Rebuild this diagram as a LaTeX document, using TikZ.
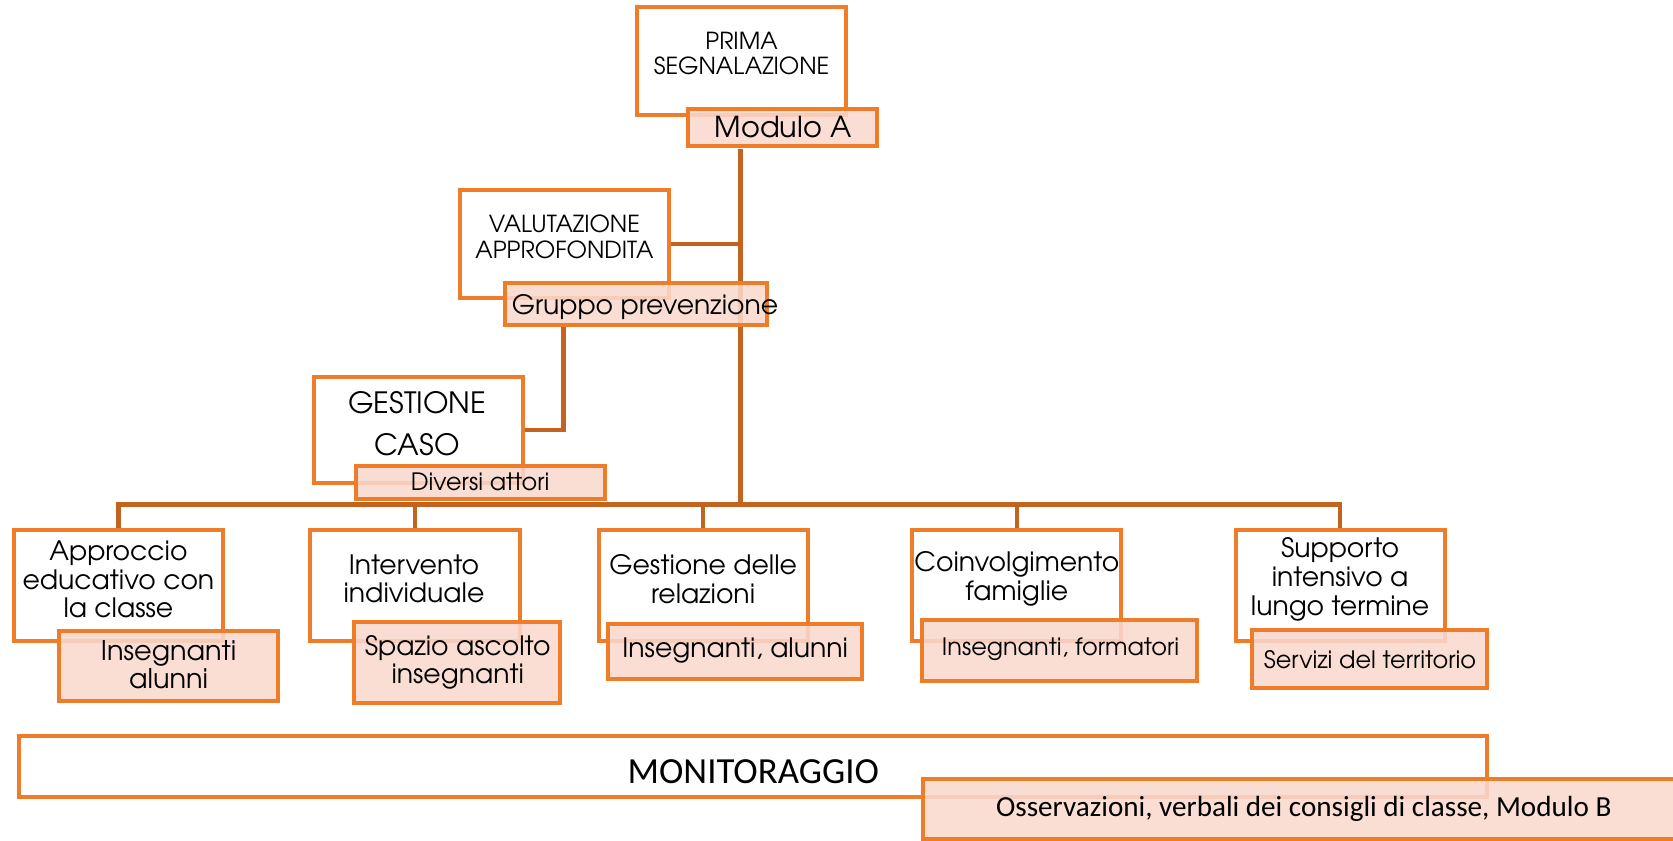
\documentclass[tikz,border=0pt]{standalone}
\usepackage{fontspec}
\setmainfont{TeX Gyre Adventor}
\newfontfamily\calib{Carlito}
\usetikzlibrary{calc}
\definecolor{borange}{RGB}{238,124,40}
\definecolor{corange}{RGB}{196,98,32}
\definecolor{pinkf}{RGB}{249,217,206}
\begin{document}
\begin{tikzpicture}[x=1pt,y=-1pt,
 wbox/.style={draw=borange,line width=3.75pt,fill=white,inner sep=0pt,minimum width=196pt,minimum height=101pt},
 bbox/.style={wbox,minimum height=104pt},
 pbox/.style={draw=borange,line width=3.75pt,fill=pinkf,fill opacity=0.88,inner sep=0pt},
 conn/.style={draw=corange,line width=4.2pt},
 txt/.style={align=center,inner sep=0pt,text=black,font=\fontsize{22}{24}\selectfont},
 btxt/.style={txt,font=\fontsize{25}{27}\selectfont},
 ctxt/.style={txt,font=\calib\fontsize{24}{28}\selectfont},
]
\clip (0,0) rectangle (1568,788);
% coordinates for connector junctions
\coordinate (t1) at (694,473);
% white boxes
\node[wbox] (prima) at (695,57.5) {};
\node[wbox] (valut) at (529,228.5) {};
\node[wbox,minimum height=100pt] (gest) at (392,403) {};
\node[bbox] (b1) at (111,549) {};
\node[bbox] (b2) at (389,549) {};
\node[bbox] (b3) at (659,549) {};
\node[bbox] (b4) at (953,549) {};
\node[bbox] (b5) at (1256,549) {};
\node[wbox,minimum width=1376pt,minimum height=57pt] (mon) at (706,718.5) {};
% connectors
\draw[conn] (prima.south -| t1) ++(0,30) -- (t1);
\draw[conn] (valut.east) -- (valut.east -| t1);
\draw[conn] ($(valut.south)+(-1,26)$) |- (gest.east);
\draw[conn] (b1.north) |- (t1) -| (b5.north);
\draw[conn] (b2.north) -- (b2.north |- t1);
\draw[conn] (b3.north) -- (b3.north |- t1);
\draw[conn] (b4.north) -- (b4.north |- t1);
% pink boxes
\node[pbox,minimum width=177pt,minimum height=35pt] (modA) at (733.5,119.5) {};
\node[pbox,minimum width=246pt,minimum height=40pt] (gruppo) at (596,285) {};
\node[pbox,minimum width=233pt,minimum height=31pt] (diversi) at (450.5,452.5) {};
\node[pbox,minimum width=206pt,minimum height=66pt] (p1) at (158,624) {};
\node[pbox,minimum width=193pt,minimum height=76pt] (p2) at (428.5,621) {};
\node[pbox,minimum width=238pt,minimum height=51pt] (p3) at (689,610.5) {};
\node[pbox,minimum width=258pt,minimum height=57pt] (p4) at (993,609.5) {};
\node[pbox,minimum width=221pt,minimum height=55pt] (p5) at (1283.5,617.5) {};
\node[pbox,minimum width=735pt,minimum height=56pt] (oss) at (1232.5,758) {};
% texts
\node[txt] (tprima) at (695,50) {PRIMA\\SEGNALAZIONE};
\node[txt,font=\fontsize{27}{30}\selectfont] (tmodA) at (734,119) {Modulo A};
\node[txt] (tvalut) at (529,222) {VALUTAZIONE\\APPROFONDITA};
\node[txt,font=\fontsize{25}{28}\selectfont] (tgruppo) at (604.5,288) {Gruppo prevenzione};
\node[txt,font=\fontsize{27.5}{40}\selectfont] (tgest) at (391,397) {GESTIONE\\CASO};
\node[txt,font=\fontsize{22.4}{25}\selectfont] (tdiv) at (450,452) {Diversi attori};
\node[btxt] (tb1) at (111,543) {Approccio\\educativo con\\la classe};
\node[btxt] (tb2) at (388,542.5) {Intervento\\individuale};
\node[btxt] (tb3) at (659,542.5) {Gestione delle\\relazioni};
\node[btxt] (tb4) at (953,542.5) {Coinvolgimento\\famiglie};
\node[btxt] (tb5) at (1256,543) {Supporto\\intensivo a\\lungo termine};
\node[btxt,font=\fontsize{25.4}{26}\selectfont] (tp1) at (158,623) {Insegnanti\\alunni};
\node[btxt,font=\fontsize{25}{26}\selectfont] (tp2) at (429,621) {Spazio ascolto\\insegnanti};
\node[btxt] (tp3) at (689,610) {Insegnanti, alunni};
\node[txt,font=\fontsize{22.5}{25}\selectfont] (tp4) at (994,608) {Insegnanti, formatori};
\node[txt,font=\fontsize{22.5}{25}\selectfont] (tp5) at (1284,618) {Servizi del territorio};
\node[ctxt,font=\calib\fontsize{34.5}{40}\selectfont] (tmon) at (706,723) {MONITORAGGIO};
\node[ctxt,font=\calib\fontsize{27.3}{32}\selectfont] (toss) at (1222,758) {Osservazioni, verbali dei consigli di classe, Modulo B};
\end{tikzpicture}
\end{document}
